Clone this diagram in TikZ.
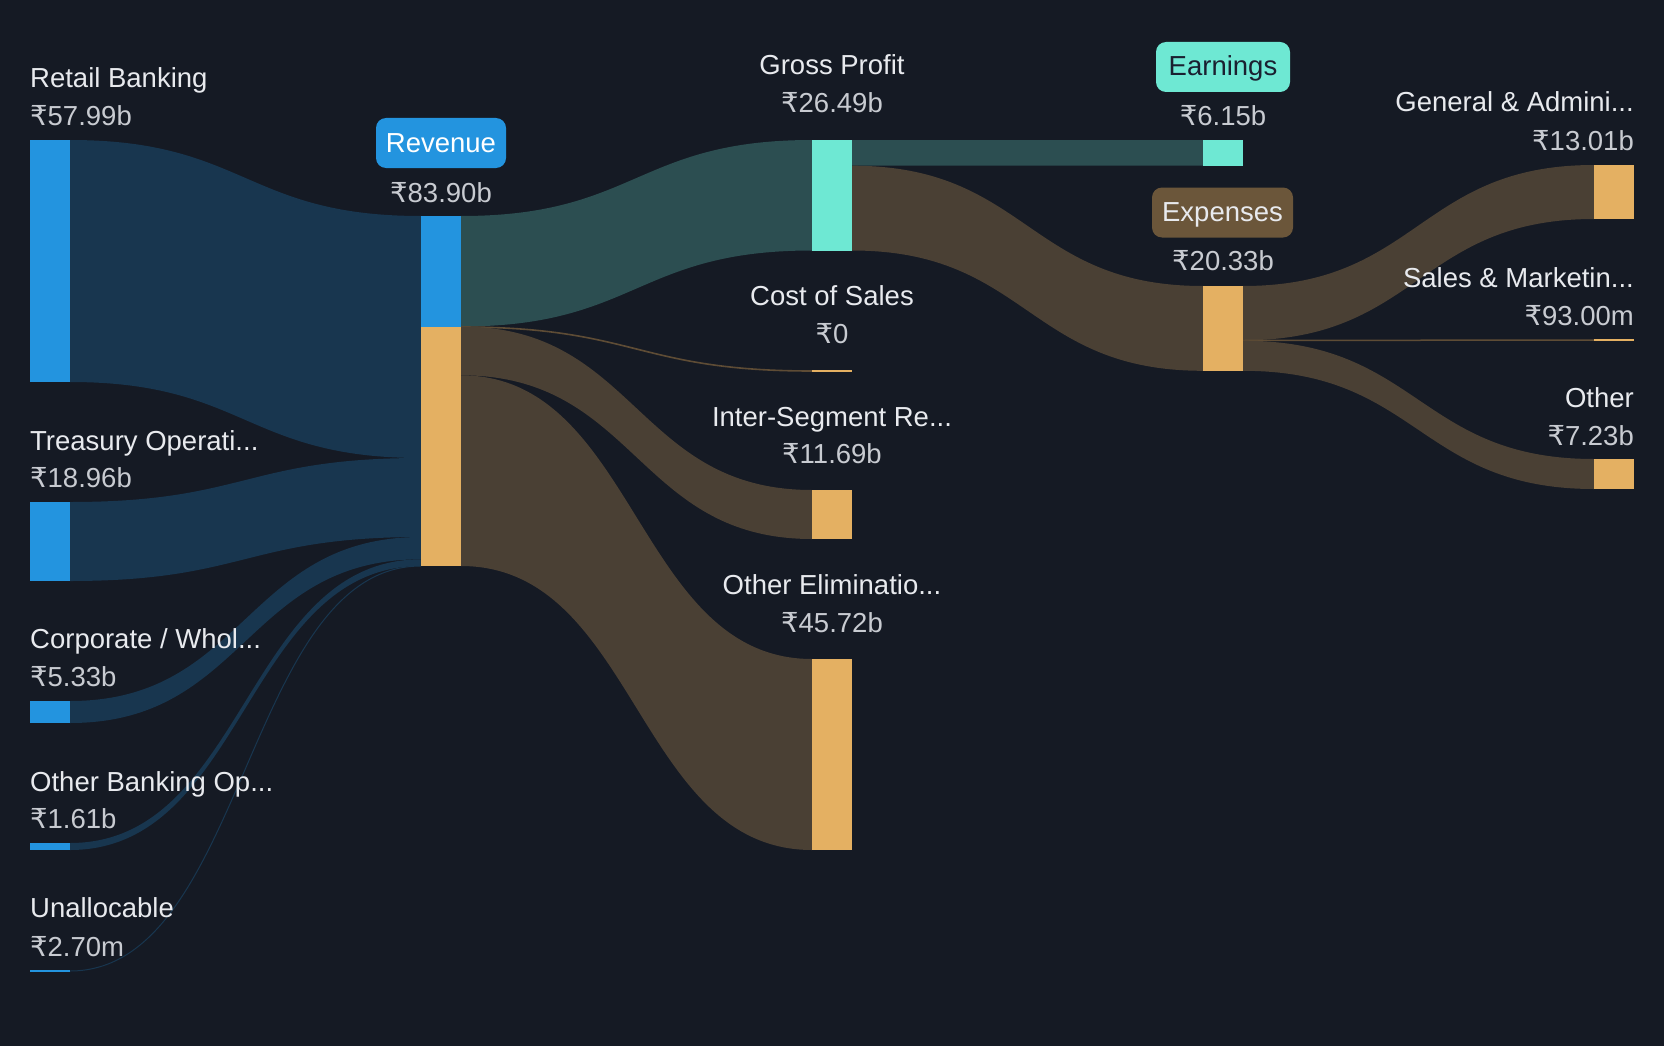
\documentclass[tikz,border=0pt]{standalone}
\usepackage{fontspec}
\setmainfont{Liberation Sans}
\newfontfamily\rupfont[Scale=1.0]{DejaVu Sans}
\newcommand\rs{{\rupfont ₹}}
\definecolor{bg}{HTML}{151A24}
\definecolor{bluebar}{HTML}{2394DF}
\definecolor{blueflow}{HTML}{18364F}
\definecolor{tealbar}{HTML}{6EE8D3}
\definecolor{tealflow}{HTML}{2C4E51}
\definecolor{orangebar}{HTML}{E4B062}
\definecolor{orangeflow}{HTML}{4A4034}
\definecolor{thinorange}{HTML}{5E4C35}
\definecolor{expbox}{HTML}{6B563A}
\definecolor{labtxt}{HTML}{E8EAEE}
\definecolor{valtxt}{HTML}{C8CBD1}
\definecolor{darktxt}{HTML}{1A2030}
\tikzset{
  barbox/.style={rectangle, inner sep=0pt, outer sep=0pt, minimum width=40pt, draw=none, fill=#1},
  txt/.style={inner sep=0pt, font=\fontsize{27.5}{33}\selectfont},
  lab/.style={txt, text=labtxt},
  val/.style={txt, text=valtxt},
  pill/.style={txt, rounded corners=10pt, minimum height=50pt, inner xsep=0pt, text height=21pt, text depth=3pt},
  thinflow/.style={line width=#1, line cap=butt}
}
% band: x0, y0 top, y0 bottom, x1, y1 top, y1 bottom, colour
\newcommand\band[7]{%
  \fill[#7] (#1,#2) .. controls ({(#1+#4)/2},#2) and ({(#1+#4)/2},#5) .. (#4,#5)
    -- (#4,#6) .. controls ({(#1+#4)/2},#6) and ({(#1+#4)/2},#3) .. (#1,#3) -- cycle;}
\newcommand\thinband[6]{%
  \draw[thinflow=#5, #6] (#1,#2) .. controls ({(#1+#3)/2},#2) and ({(#1+#3)/2},#4) .. (#3,#4);}
\begin{document}
\begin{tikzpicture}[x=1pt, y=-1pt]
\fill[bg] (0,0) rectangle (1664,1046);
\useasboundingbox (0,0) rectangle (1664,1046);

% ---- flows: segments -> revenue
\band{70}{140}{382}{421}{216}{458}{blueflow}
\band{70}{502}{581}{421}{458}{537}{blueflow}
\band{70}{701}{723}{421}{537}{559.3}{blueflow}
\band{70}{843}{850}{421}{559.3}{566}{blueflow}
\thinband{70}{971}{421}{566}{1pt}{blueflow}
% ---- flows: revenue -> column 3
\band{461}{216}{326.5}{812}{140}{250.5}{tealflow}
\thinband{461}{327}{812}{371}{1.6pt}{thinorange}
\band{461}{326.5}{375.3}{812}{490}{539}{orangeflow}
\band{461}{375.3}{566}{812}{659}{850}{orangeflow}
% ---- flows: gross profit -> column 4
\band{852}{140}{165.7}{1203}{140}{165.7}{tealflow}
\band{852}{165.7}{250.5}{1203}{286}{370.8}{orangeflow}
% ---- flows: expenses -> column 5
\band{1243}{286}{340.3}{1594}{165}{219}{orangeflow}
\thinband{1243}{340.5}{1594}{340}{1.5pt}{thinorange}
\band{1243}{340.7}{370.8}{1594}{459}{489}{orangeflow}

% ---- bars
\node[barbox=bluebar, minimum height=242pt] (retail) at (50,261) {};
\node[barbox=bluebar, minimum height=79pt] (treasury) at (50,541.5) {};
\node[barbox=bluebar, minimum height=22pt] (corporate) at (50,712) {};
\node[barbox=bluebar, minimum height=7pt] (otherbank) at (50,846.5) {};
\node[barbox=bluebar, minimum height=2pt] (unalloc) at (50,971) {};
\node[barbox=bluebar, minimum height=110.5pt] (revblue) at (441,271.25) {};
\node[barbox=orangebar, minimum height=239.5pt] (revorange) at (441,446.25) {};
\node[barbox=tealbar, minimum height=110.5pt] (gross) at (832,195.25) {};
\node[barbox=orangebar, minimum height=2pt] (cos) at (832,371) {};
\node[barbox=orangebar, minimum height=49pt] (interseg) at (832,514.5) {};
\node[barbox=orangebar, minimum height=191pt] (otherelim) at (832,754.5) {};
\node[barbox=tealbar, minimum height=25.7pt] (earn) at (1223,152.85) {};
\node[barbox=orangebar, minimum height=84.8pt] (exp) at (1223,328.4) {};
\node[barbox=orangebar, minimum height=54pt] (ga) at (1614,192) {};
\node[barbox=orangebar, minimum height=1.6pt] (sm) at (1614,340) {};
\node[barbox=orangebar, minimum height=30pt] (oth) at (1614,474) {};

% ---- column 1 labels
\node[lab, anchor=base west] (retailL) at (30,88) {Retail Banking};
\node[val, anchor=base west] (retailV) at (30,125) {\rs57.99b};
\node[lab, anchor=base west] (treasuryL) at (30,450) {Treasury Operati...};
\node[val, anchor=base west] (treasuryV) at (30,487) {\rs18.96b};
\node[lab, anchor=base west] (corporateL) at (30,648) {Corporate / Whol...};
\node[val, anchor=base west] (corporateV) at (30,686) {\rs5.33b};
\node[lab, anchor=base west] (otherbankL) at (30,791) {Other Banking Op...};
\node[val, anchor=base west] (otherbankV) at (30,828) {\rs1.61b};
\node[lab, anchor=base west] (unallocL) at (30,917) {Unallocable};
\node[val, anchor=base west] (unallocV) at (30,956) {\rs2.70m};

% ---- revenue
\node[pill, fill=bluebar, text=white, minimum width=130pt] (revL) at (441,143) {Revenue};
\node[val, anchor=base] (revV) at (441,202) {\rs83.90b};

% ---- column 3 labels
\node[lab, anchor=base] (grossL) at (832,75) {Gross Profit};
\node[val, anchor=base] (grossV) at (832,113) {\rs26.49b};
\node[lab, anchor=base] (cosL) at (832,305) {Cost of Sales};
\node[val, anchor=base] (cosV) at (832,343) {\rs0};
\node[lab, anchor=base] (intersegL) at (832,426) {Inter-Segment Re...};
\node[val, anchor=base] (intersegV) at (832,463) {\rs11.69b};
\node[lab, anchor=base] (otherelimL) at (832,594) {Other Eliminatio...};
\node[val, anchor=base] (otherelimV) at (832,632) {\rs45.72b};

% ---- column 4 labels
\node[pill, fill=tealbar, text=darktxt, minimum width=134pt] (earnL) at (1223,67) {Earnings};
\node[val, anchor=base] (earnV) at (1223,125) {\rs6.15b};
\node[pill, fill=expbox, text=labtxt, minimum width=141pt] (expL) at (1222.5,212.5) {Expenses};
\node[val, anchor=base] (expV) at (1223,270) {\rs20.33b};

% ---- column 5 labels
\node[lab, anchor=base east] (gaL) at (1634,112) {General \& Admini...};
\node[val, anchor=base east] (gaV) at (1634,150) {\rs13.01b};
\node[lab, anchor=base east] (smL) at (1634,287) {Sales \& Marketin...};
\node[val, anchor=base east] (smV) at (1634,325) {\rs93.00m};
\node[lab, anchor=base east] (othL) at (1634,407) {Other};
\node[val, anchor=base east] (othV) at (1634,445) {\rs7.23b};
\end{tikzpicture}
\end{document}
